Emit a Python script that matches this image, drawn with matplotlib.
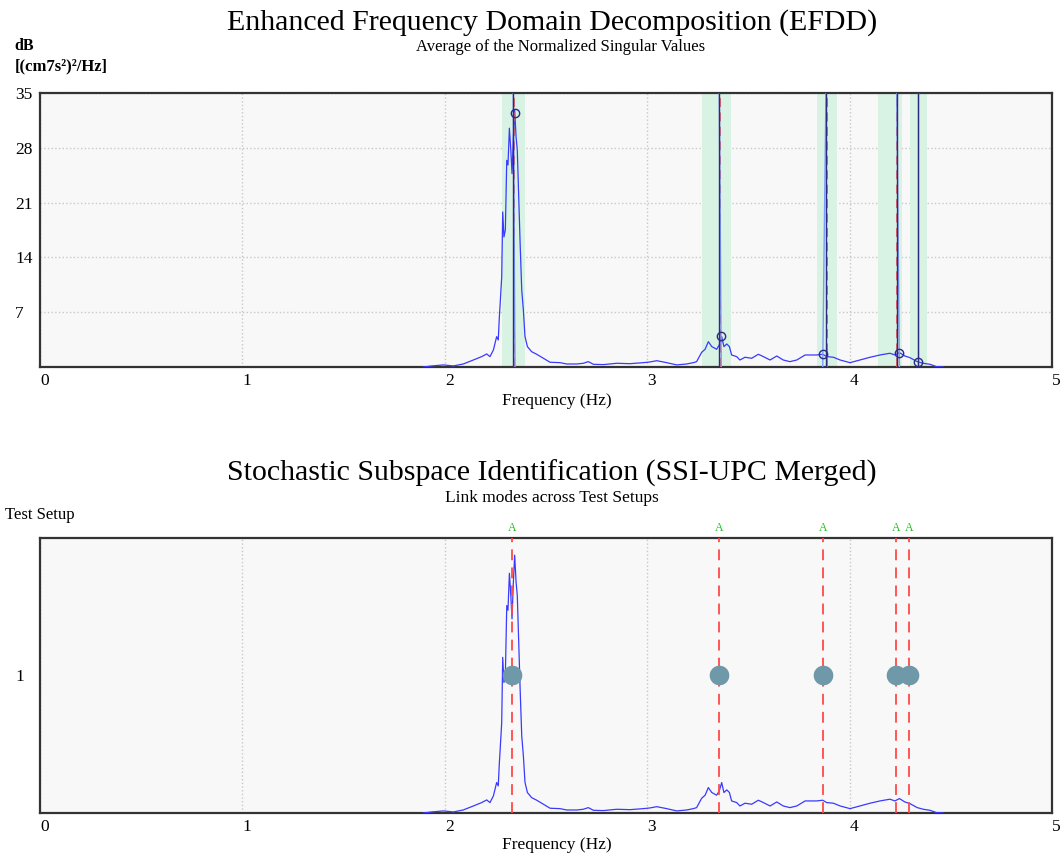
import matplotlib.pyplot as plt
import numpy as np

plt.rcParams['font.family'] = ['Liberation Serif', 'DejaVu Serif']

# spectre moyen (dB)
freq = [1.894, 1.935, 1.993, 2.042, 2.091, 2.141, 2.182, 2.207, 2.223, 2.240,
        2.256, 2.264, 2.269, 2.273, 2.281, 2.286, 2.292, 2.299, 2.306, 2.312,
        2.319, 2.326, 2.332, 2.338, 2.345, 2.352, 2.358, 2.365, 2.372, 2.380,
        2.388, 2.396, 2.408, 2.429, 2.454, 2.487, 2.520, 2.569, 2.602, 2.652,
        2.684, 2.709, 2.734, 2.783, 2.849, 2.915, 2.981, 3.014, 3.047, 3.071,
        3.096, 3.146, 3.195, 3.228, 3.244, 3.269, 3.286, 3.302, 3.319, 3.343,
        3.356, 3.368, 3.379, 3.393, 3.406, 3.417, 3.442, 3.458, 3.483, 3.516,
        3.549, 3.574, 3.607, 3.640, 3.672, 3.705, 3.739, 3.780, 3.813, 3.837,
        3.867, 3.887, 3.920, 3.953, 4.002, 4.051, 4.101, 4.150, 4.199, 4.224,
        4.246, 4.273, 4.298, 4.334, 4.364, 4.397, 4.430, 4.463]
db = [0.0, 0.13, 0.26, 0.13, 0.38, 0.89, 1.32, 1.66, 1.32, 2.17,
      3.87, 3.45, 6.2, 7.9, 11.5, 19.8, 16.6, 17.5, 26.4, 25.8,
      30.5, 27.7, 24.7, 29.0, 32.8, 29.4, 27.7, 21.8, 15.8, 9.8,
      7.3, 3.9, 2.6, 1.95, 1.62, 1.11, 0.60, 0.55, 0.38, 0.38,
      0.47, 0.68, 0.34, 0.30, 0.47, 0.42, 0.55, 0.64, 0.80, 0.68,
      0.55, 0.26, 0.38, 0.55, 0.68, 1.87, 2.26, 3.23, 2.60, 2.26,
      2.81, 3.87, 2.60, 2.94, 2.60, 1.53, 1.32, 0.89, 1.24, 1.11,
      1.62, 1.32, 0.89, 1.40, 0.89, 0.68, 0.89, 1.53, 1.53, 1.53,
      1.62, 1.32, 1.24, 0.89, 0.55, 0.89, 1.24, 1.53, 1.75, 1.53,
      1.83, 1.40, 1.19, 0.68, 0.47, 0.34, 0.04, 0.0]

# EFDD : bandes, lignes et pics
band_lo = [2.281, 3.272, 3.841, 4.142, 4.298]
band_hi = [2.397, 3.413, 3.938, 4.257, 4.382]
efdd_lines = [2.338, 3.356, 3.883, 4.233, 4.336]
peak_f = [2.347, 3.366, 3.867, 4.246, 4.336]
peak_db = [32.5, 3.96, 1.62, 1.75, 0.68]
efdd_red = [2.342, 3.360, 3.887, 4.234]

# SSI : modes
ssi_modes = [2.332, 3.355, 3.868, 4.229, 4.292]
ssi_setup = [1, 1, 1, 1, 1]
ssi_labels = ['A', 'A', 'A', 'A', 'A']

db_max = 35
n_setups = 2

fig = plt.figure(figsize=(10.62, 8.6), dpi=100)
ax1 = fig.add_axes([0.0377, 0.5733, 0.9529, 0.3186])
ax2 = fig.add_axes([0.0377, 0.0547, 0.9529, 0.3198])

blue = '#3a3aff'
navy = '#2b2b80'
red = '#ff4a4a'

for ax in (ax1, ax2):
    ax.set_facecolor('#f8f8f8')
    ax.set_xlim(0, 5)
    ax.set_xticks([0, 1, 2, 3, 4, 5])
    ax.tick_params(length=0, labelsize=12.5)
    ax.tick_params(axis='x', pad=4)
    ax.tick_params(axis='y', pad=18)
    for lab in ax.get_xticklabels():
        lab.set_horizontalalignment('left')
    for s in ax.spines.values():
        s.set_linewidth(1.6)
        s.set_color('#333333')
    ax.set_xlabel('Frequency (Hz)', fontsize=12.5, va='top')

ax1.xaxis.set_label_coords(0.511, -0.095)
ax2.xaxis.set_label_coords(0.511, -0.088)

# --- EFDD ---
ax1.set_ylim(0, db_max)
ax1.set_yticks([7, 14, 21, 28, 35])
for lab in ax1.get_yticklabels():
    lab.set_horizontalalignment('left')
ax1.grid(True, color='#c8c8c8', linestyle=':', linewidth=1)
ax1.set_axisbelow(True)
for lo, hi in zip(band_lo, band_hi):
    ax1.axvspan(lo, hi, color='#d8f3e4', zorder=1, lw=0)
ax1.plot(freq, db, color=blue, lw=0.9, zorder=3)
for f in efdd_red:
    ax1.axvline(f, color='#e8605a', lw=1.3, ls=(0, (5, 3)), zorder=4)
for f0, f1 in zip(efdd_lines, peak_f):
    ax1.plot([f0, f1], [db_max, 0], color='#7f9cff', lw=1.0, zorder=4)
for f in efdd_lines:
    ax1.axvline(f, color=navy, lw=1.0, zorder=5)
ax1.plot(peak_f, peak_db, 'o', ms=6, mfc='none', mec=navy, mew=1.0, zorder=6)

# --- SSI ---
ax2.set_ylim(0, n_setups)
ax2.set_yticks([1])
for lab in ax2.get_yticklabels():
    lab.set_horizontalalignment('left')
ax2.grid(True, axis='x', color='#c8c8c8', linestyle=':', linewidth=1)
ax2.set_axisbelow(True)
ax2.plot(freq, np.array(db) / db_max * n_setups, color=blue, lw=0.9, zorder=3)
for f, lab in zip(ssi_modes, ssi_labels):
    ax2.axvline(f, color=red, lw=1.3, ls=(0, (6, 4)), zorder=4)
    ax2.text(f, n_setups * 1.015, lab, color='#22c022', fontsize=8.5,
             ha='center', va='bottom')
ax2.scatter(ssi_modes, ssi_setup, s=200, color='#6f98a8', zorder=5, lw=0)

# titres
fig.text(0.52, 0.974, 'Enhanced Frequency Domain Decomposition (EFDD)',
         ha='center', va='center', fontsize=21.5)
fig.text(0.528, 0.945, 'Average of the Normalized Singular Values',
         ha='center', va='center', fontsize=12)
fig.text(0.014, 0.947, 'dB', fontsize=11.5, fontweight='bold', va='center')
fig.text(0.014, 0.923, '[(cm7s²)²/Hz]', fontsize=12, fontweight='bold',
         va='center')
fig.text(0.52, 0.450, 'Stochastic Subspace Identification (SSI-UPC Merged)',
         ha='center', va='center', fontsize=21.5)
fig.text(0.52, 0.421, 'Link modes across Test Setups',
         ha='center', va='center', fontsize=12.5)
fig.text(0.005, 0.401, 'Test Setup', fontsize=12, va='center')

fig.savefig('out.png', dpi=100)
